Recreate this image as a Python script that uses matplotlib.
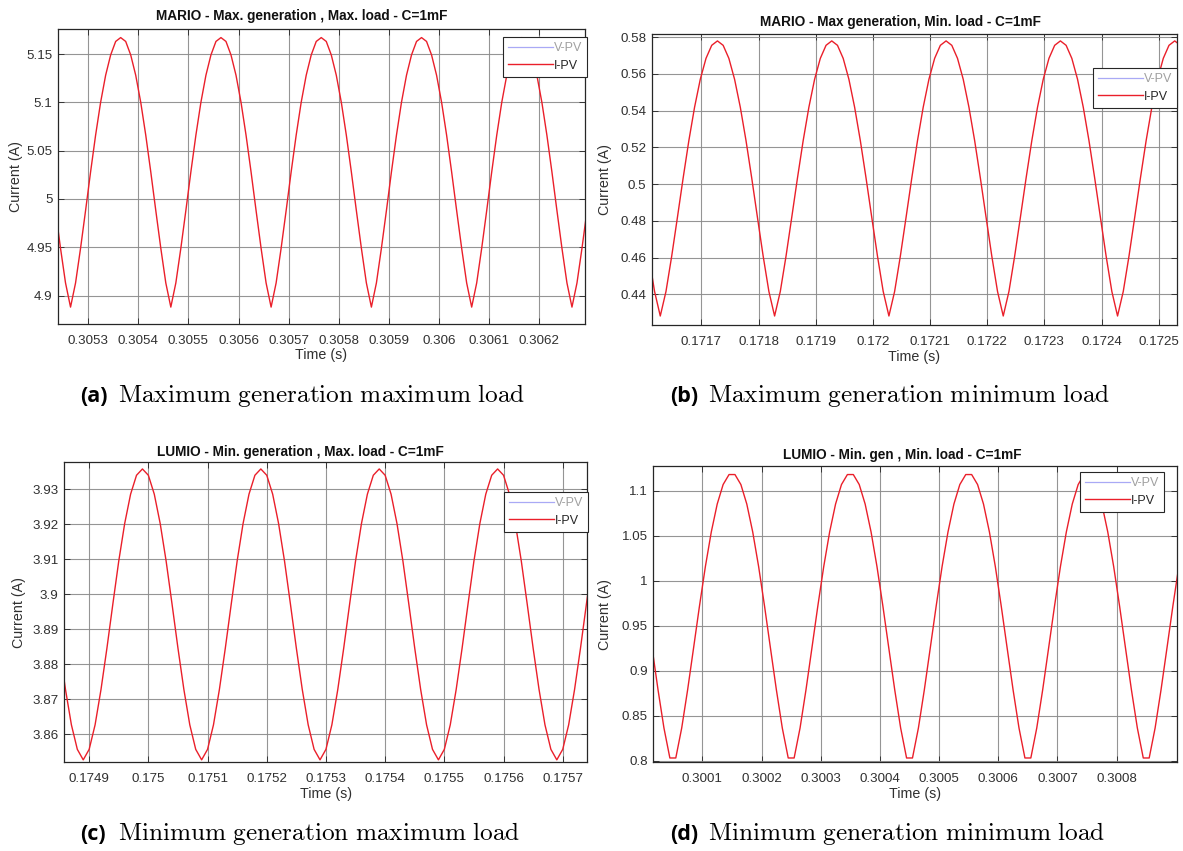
import numpy as np
import matplotlib
matplotlib.use("Agg")
import matplotlib.pyplot as plt
from matplotlib.lines import Line2D

plt.rcParams["mathtext.fontset"] = "cm"

W, H = 1183, 851

# logged PV current, one sample every 10 microseconds
DT = 1e-5

# (a) MARIO, maximum generation / maximum load
A_T0 = 0.305235
A_CURRENT = [
    4.988, 4.949, 4.913,
    4.888, 4.913, 4.949, 4.988, 5.028, 5.066, 5.100, 5.128, 5.149, 5.163,
    5.167, 5.163, 5.149, 5.128, 5.100, 5.066, 5.028, 4.988, 4.949, 4.913,
    4.888, 4.913, 4.949, 4.988, 5.028, 5.066, 5.100, 5.128, 5.149, 5.163,
    5.167, 5.163, 5.149, 5.128, 5.100, 5.066, 5.028, 4.988, 4.949, 4.913,
    4.888, 4.913, 4.949, 4.988, 5.028, 5.066, 5.100, 5.128, 5.149, 5.163,
    5.167, 5.163, 5.149, 5.128, 5.100, 5.066, 5.028, 4.988, 4.949, 4.913,
    4.888, 4.913, 4.949, 4.988, 5.028, 5.066, 5.100, 5.128, 5.149, 5.163,
    5.167, 5.163, 5.149, 5.128, 5.100, 5.066, 5.028, 4.988, 4.949, 4.913,
    4.888, 4.913, 4.949, 4.988, 5.028, 5.066, 5.100, 5.128, 5.149, 5.163,
    5.167, 5.163, 5.149, 5.128, 5.100, 5.066, 5.028, 4.988, 4.949, 4.913,
    4.888, 4.913, 4.949, 4.988,
]
A_XTICKS = [0.3053, 0.3054, 0.3055, 0.3056, 0.3057, 0.3058, 0.3059, 0.3060, 0.3061, 0.3062]
A_YTICKS = [4.90, 4.95, 5.00, 5.05, 5.10, 5.15]

# (b) MARIO, maximum generation / minimum load
B_T0 = 0.171608
B_CURRENT = [
    0.4608, 0.4416,
    0.4282, 0.4416, 0.4608, 0.4819, 0.5033, 0.5237, 0.5419, 0.5571, 0.5685, 0.5756,
    0.5780, 0.5756, 0.5685, 0.5571, 0.5419, 0.5237, 0.5033, 0.4819, 0.4608, 0.4416,
    0.4282, 0.4416, 0.4608, 0.4819, 0.5033, 0.5237, 0.5419, 0.5571, 0.5685, 0.5756,
    0.5780, 0.5756, 0.5685, 0.5571, 0.5419, 0.5237, 0.5033, 0.4819, 0.4608, 0.4416,
    0.4282, 0.4416, 0.4608, 0.4819, 0.5033, 0.5237, 0.5419, 0.5571, 0.5685, 0.5756,
    0.5780, 0.5756, 0.5685, 0.5571, 0.5419, 0.5237, 0.5033, 0.4819, 0.4608, 0.4416,
    0.4282, 0.4416, 0.4608, 0.4819, 0.5033, 0.5237, 0.5419, 0.5571, 0.5685, 0.5756,
    0.5780, 0.5756, 0.5685, 0.5571, 0.5419, 0.5237, 0.5033, 0.4819, 0.4608, 0.4416,
    0.4282, 0.4416, 0.4608, 0.4819, 0.5033, 0.5237, 0.5419, 0.5571, 0.5685, 0.5756,
    0.5780, 0.5756,
]
B_XTICKS = [0.1717, 0.1718, 0.1719, 0.1720, 0.1721, 0.1722, 0.1723, 0.1724, 0.1725]
B_YTICKS = [0.44, 0.46, 0.48, 0.50, 0.52, 0.54, 0.56, 0.58]

# (c) LUMIO, minimum generation / maximum load
C_T0 = 0.17485
C_CURRENT = [
    3.8846, 3.8728, 3.8627, 3.8557,
    3.8527, 3.8557, 3.8627, 3.8728, 3.8846, 3.8972, 3.9095, 3.9202, 3.9286, 3.9340,
    3.9358, 3.9340, 3.9286, 3.9202, 3.9095, 3.8972, 3.8846, 3.8728, 3.8627, 3.8557,
    3.8527, 3.8557, 3.8627, 3.8728, 3.8846, 3.8972, 3.9095, 3.9202, 3.9286, 3.9340,
    3.9358, 3.9340, 3.9286, 3.9202, 3.9095, 3.8972, 3.8846, 3.8728, 3.8627, 3.8557,
    3.8527, 3.8557, 3.8627, 3.8728, 3.8846, 3.8972, 3.9095, 3.9202, 3.9286, 3.9340,
    3.9358, 3.9340, 3.9286, 3.9202, 3.9095, 3.8972, 3.8846, 3.8728, 3.8627, 3.8557,
    3.8527, 3.8557, 3.8627, 3.8728, 3.8846, 3.8972, 3.9095, 3.9202, 3.9286, 3.9340,
    3.9358, 3.9340, 3.9286, 3.9202, 3.9095, 3.8972, 3.8846, 3.8728, 3.8627, 3.8557,
    3.8527, 3.8557, 3.8627, 3.8728, 3.8846, 3.8972, 3.9095,
]
C_XTICKS = [0.1749, 0.1750, 0.1751, 0.1752, 0.1753, 0.1754, 0.1755, 0.1756, 0.1757]
C_YTICKS = [3.86, 3.87, 3.88, 3.89, 3.90, 3.91, 3.92, 3.93]

# (d) LUMIO, minimum generation / minimum load
D_T0 = 0.300015
D_CURRENT = [
    0.925, 0.8787, 0.8363, 0.803,
    0.803, 0.8363, 0.8787, 0.925, 0.9717, 1.0157, 1.0542, 1.0852, 1.1069, 1.118,
    1.118, 1.1069, 1.0852, 1.0542, 1.0157, 0.9717, 0.925, 0.8787, 0.8363, 0.803,
    0.803, 0.8363, 0.8787, 0.925, 0.9717, 1.0157, 1.0542, 1.0852, 1.1069, 1.118,
    1.118, 1.1069, 1.0852, 1.0542, 1.0157, 0.9717, 0.925, 0.8787, 0.8363, 0.803,
    0.803, 0.8363, 0.8787, 0.925, 0.9717, 1.0157, 1.0542, 1.0852, 1.1069, 1.118,
    1.118, 1.1069, 1.0852, 1.0542, 1.0157, 0.9717, 0.925, 0.8787, 0.8363, 0.803,
    0.803, 0.8363, 0.8787, 0.925, 0.9717, 1.0157, 1.0542, 1.0852, 1.1069, 1.118,
    1.118, 1.1069, 1.0852, 1.0542, 1.0157, 0.9717, 0.925, 0.8787, 0.8363, 0.803,
    0.803, 0.8363, 0.8787, 0.925, 0.9717, 1.0157,
]
D_XTICKS = [0.3001, 0.3002, 0.3003, 0.3004, 0.3005, 0.3006, 0.3007, 0.3008]
D_YTICKS = [0.80, 0.85, 0.90, 0.95, 1.00, 1.05, 1.10]

TITLES = [
    "MARIO - Max. generation , Max. load - C=1mF",
    "MARIO - Max generation, Min. load - C=1mF",
    "LUMIO - Min. generation , Max. load - C=1mF",
    "LUMIO - Min. gen , Min. load - C=1mF",
]
CAPTION_TAGS = ["(a)", "(b)", "(c)", "(d)"]
CAPTIONS = [
    "Maximum generation maximum load",
    "Maximum generation minimum load",
    "Minimum generation maximum load",
    "Minimum generation minimum load",
]
LEGEND_LABELS = ["V-PV", "I-PV"]

RED = "#ea1f2a"
VPV = "#a9a9f5"
INK = "#262626"
LABEL = "#303030"
GRID = "#8a8a8a"
SANS = ["Liberation Sans", "DejaVu Sans"]

fig = plt.figure(figsize=(W / 100, H / 100), dpi=100)
fig.patch.set_facecolor("white")


def px_axes(left, top, right, bottom):
    return fig.add_axes([left / W, 1 - bottom / H, (right - left) / W, (bottom - top) / H])


panels = [
    dict(box=(58, 28.5, 585, 324), t0=A_T0, y=A_CURRENT, xt=A_XTICKS, yt=A_YTICKS,
         xlim=(0.30524, 0.306291), ylim=(4.8705, 5.1764),
         leg=(587, 37), title_xy=(302, 16), ylab_x=23, cap_xy=(80, 402)),
    dict(box=(651.7, 34.3, 1177, 325), t0=B_T0, y=B_CURRENT, xt=B_XTICKS, yt=B_YTICKS,
         xlim=(0.171613, 0.172532), ylim=(0.4233, 0.5816),
         leg=(1177, 68), title_xy=(900, 22), ylab_x=612, cap_xy=(670, 402)),
    dict(box=(64.3, 462.3, 587, 762.3), t0=C_T0, y=C_CURRENT, xt=C_XTICKS, yt=C_YTICKS,
         xlim=(0.174858, 0.175741), ylim=(3.852, 3.9377),
         leg=(588, 492), title_xy=(300, 452), ylab_x=26, cap_xy=(80, 840)),
    dict(box=(653.3, 466, 1177, 762.3), t0=D_T0, y=D_CURRENT, xt=D_XTICKS, yt=D_YTICKS,
         xlim=(0.300017, 0.300902), ylim=(0.7982, 1.1275),
         leg=(1164, 472), title_xy=(902, 455), ylab_x=612, cap_xy=(670, 840)),
]

for i, p in enumerate(panels):
    left, top, right, bottom = p["box"]
    ax = px_axes(left, top, right, bottom)
    y = np.asarray(p["y"])
    t = p["t0"] + DT * np.arange(len(y))
    (line,) = ax.plot(t, y, color=RED, lw=1.0, label=LEGEND_LABELS[1])

    ax.set_xlim(*p["xlim"])
    ax.set_ylim(*p["ylim"])
    ax.set_xticks(p["xt"])
    ax.set_xticklabels(["{:g}".format(round(v, 4)) for v in p["xt"]])
    ax.set_yticks(p["yt"])
    ax.set_yticklabels(["{:g}".format(round(v, 4)) for v in p["yt"]])
    ax.grid(True, color=GRID, lw=0.8, alpha=0.9)
    ax.set_axisbelow(True)
    ax.tick_params(direction="in", length=4, width=0.6, colors=INK, labelsize=9.6,
                   top=True, right=True)
    ax.tick_params(axis="x", pad=8)
    ax.tick_params(axis="y", pad=4)
    for lab in ax.get_xticklabels() + ax.get_yticklabels():
        lab.set_family(SANS)
        lab.set_color(LABEL)
    for s in ax.spines.values():
        s.set_color(INK)
        s.set_linewidth(0.9)

    ax.set_xlabel("Time (s)", family=SANS, fontsize=10.3, color=LABEL, labelpad=1)
    ax.set_ylabel("Current (A)", family=SANS, fontsize=10.3, color=LABEL)
    ax.yaxis.set_label_coords((p["ylab_x"] - left) / (right - left), 0.5)

    fig.text(p["title_xy"][0] / W, 1 - p["title_xy"][1] / H, TITLES[i],
             family=SANS, fontsize=9.8, fontweight="bold", color="#111111",
             ha="center", va="center")

    proxy = Line2D([], [], color=VPV, lw=0.9)
    leg = ax.legend([proxy, line], LEGEND_LABELS, loc="upper right",
                    bbox_to_anchor=(p["leg"][0] / W, 1 - p["leg"][1] / H),
                    bbox_transform=fig.transFigure, borderaxespad=0,
                    fancybox=False, framealpha=1, edgecolor=INK,
                    prop={"family": SANS, "size": 9}, handlelength=3.6,
                    handletextpad=0.05, borderpad=0.4, labelspacing=0.45)
    leg.get_frame().set_linewidth(0.8)
    leg.get_texts()[0].set_color("#a0a0a0")
    leg.get_texts()[1].set_color(INK)

    cx, cy = p["cap_xy"]
    fig.text(cx / W, 1 - cy / H, CAPTION_TAGS[i], family=["Open Sans", "DejaVu Sans"],
             fontweight="bold", fontsize=15.5, color="black", ha="left", va="baseline")
    fig.text((cx + 38) / W, 1 - cy / H, r"$\mathrm{" + CAPTIONS[i].replace(" ", r"\ ") + "}$",
             fontsize=18.2, color="black", ha="left", va="baseline")

fig.savefig("out.png", dpi=100, facecolor="white")
